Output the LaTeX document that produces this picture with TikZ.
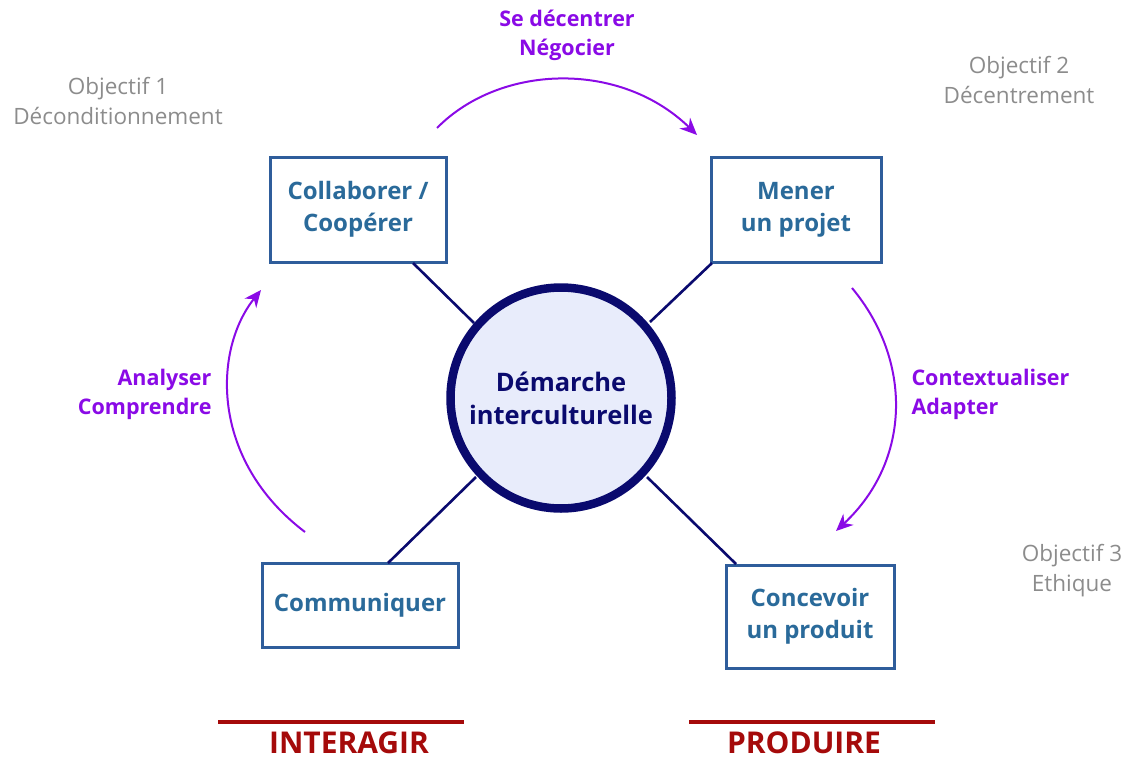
\documentclass[tikz,border=0pt]{standalone}
\usepackage{fontspec}
\setmainfont{Open Sans}
\usetikzlibrary{arrows.meta}
\definecolor{boxline}{HTML}{2F5D9B}
\definecolor{boxtext}{HTML}{2A6A9A}
\definecolor{navy}{HTML}{0A0A6E}
\definecolor{corefill}{HTML}{E8ECFB}
\definecolor{violet}{HTML}{8A0AE6}
\definecolor{objgray}{HTML}{8C8C8C}
\definecolor{darkred}{HTML}{A50A0A}
\tikzset{
  activity/.style={draw=boxline, line width=3pt, fill=white, inner sep=0pt,
    text=boxtext, font=\fontsize{24}{32}\selectfont\bfseries, align=center},
  core/.style={circle, draw=navy, line width=8.5pt, fill=corefill, minimum size=221pt,
    text=navy, font=\fontsize{25.5}{33}\selectfont\bfseries, align=center},
  spoke/.style={draw=navy, line width=2.6pt},
  cycle/.style={draw=violet, line width=2pt, -{Stealth[length=17pt,width=15pt]}},
  verb/.style={text=violet, font=\fontsize{21.5}{29}\selectfont\bfseries},
  goal/.style={text=objgray, font=\fontsize{22.5}{30}\selectfont, align=center},
  pole/.style={text=darkred, inner sep=0pt, anchor=base, font=\fontsize{30}{32}\selectfont\bfseries},
  poleline/.style={draw=darkred, line width=3.5pt}
}
\begin{document}
\begin{tikzpicture}[x=1pt,y=1pt]
\useasboundingbox (0,0) rectangle (1134,-760);

% central circle
\node[core] (core) at (561,-398) {Démarche\\interculturelle};

% the four activities
\node[activity, minimum width=176pt, minimum height=105pt] (collab) at (358,-209.5) {Collaborer /\\Coopérer};
\node[activity, minimum width=170pt, minimum height=105pt] (projet) at (796,-209.5) {Mener\\un projet};
\node[activity, minimum width=196pt, minimum height=84pt] (comm) at (360,-605) {Communiquer};
\node[activity, minimum width=168pt, minimum height=103pt] (produit) at (810,-616.5) {Concevoir\\un produit};

% spokes between the circle and the activities
\coordinate (s1a) at (474,-323); \coordinate (s1b) at (413,-263);
\coordinate (s2a) at (650,-322); \coordinate (s2b) at (712,-263);
\coordinate (s3a) at (476,-477); \coordinate (s3b) at (388,-563);
\coordinate (s4a) at (647,-477); \coordinate (s4b) at (736,-564);
\draw[spoke] (s1a) -- (s1b);
\draw[spoke] (s2a) -- (s2b);
\draw[spoke] (s3a) -- (s3b);
\draw[spoke] (s4a) -- (s4b);

% cycle arrows
\coordinate (t0) at (437,-128); \coordinate (t1) at (697,-135);
\draw[cycle] (t0) .. controls (500,-64) and (620,-60) .. (t1);
\coordinate (r0) at (852,-288); \coordinate (r1) at (836,-531);
\draw[cycle] (r0) .. controls (912,-360) and (912,-460) .. (r1);
\coordinate (l0) at (305,-532); \coordinate (l1) at (261,-290);
\draw[cycle] (l0) .. controls (210,-460) and (213,-350) .. (l1);

% verbs along the cycle
\node[verb, align=center] (v1) at (567,-35) {Se décentrer\\Négocier};
\node[verb, align=left, anchor=west] (v2) at (908,-394) {Contextualiser\\Adapter};
\node[verb, align=right, anchor=east] (v3) at (215,-394) {Analyser\\Comprendre};

% objectives
\node[goal] (g1) at (118,-101) {Objectif 1\\Déconditionnement};
\node[goal] (g2) at (1019,-80) {Objectif 2\\Décentrement};
\node[goal] (g3) at (1072,-571) {Objectif 3\\Ethique};

% poles
\coordinate (p1a) at (218,-722); \coordinate (p1b) at (464,-722);
\coordinate (p2a) at (689,-722); \coordinate (p2b) at (935,-722);
\draw[poleline] (p1a) -- (p1b);
\draw[poleline] (p2a) -- (p2b);
\node[pole] (interagir) at (349,-753) {INTERAGIR};
\node[pole] (produire) at (804,-753) {PRODUIRE};
\end{tikzpicture}
\end{document}
